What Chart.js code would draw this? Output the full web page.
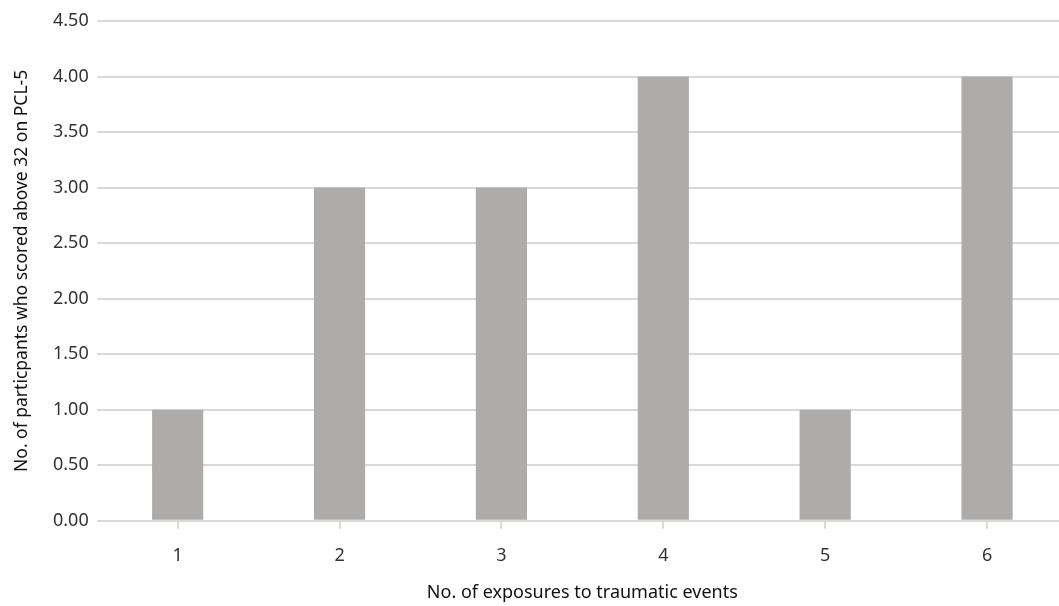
<!DOCTYPE html>
<html>
<head>
<meta charset="utf-8">
<script src="https://cdn.jsdelivr.net/npm/chart.js@4"></script>
<style>
html,body{margin:0;padding:0;background:#fff;overflow:hidden;}
#wrap{width:1068px;height:606px;position:relative;}
</style>
</head>
<body>
<div id="wrap"><canvas id="c"></canvas></div>
<script>
const categories = ["1","2","3","4","5","6"];
const participants = [1,3,3,4,1,4];
const xTitle = "No. of exposures to traumatic events";
const yTitle = "No. of particpants who scored above 32 on PCL-5";

Chart.defaults.font.family = "'Noto Sans', sans-serif";
new Chart(document.getElementById('c'), {
  type: 'bar',
  data: {
    labels: categories,
    datasets: [{
      data: participants,
      backgroundColor: '#adacaa',
      borderWidth: 0,
      barPercentage: 0.316,
      categoryPercentage: 1.0
    }]
  },
  options: {
    responsive: true,
    maintainAspectRatio: false,
    animation: false,
    layout: {padding: {left: 12, right: 0, top: 21, bottom: 2}},
    plugins: {legend: {display: false}, tooltip: {enabled: false}},
    scales: {
      x: {
        offset: true,
        grid: {offset: false, drawOnChartArea: false, drawTicks: true, tickLength: 8, color: '#d9d9d9', lineWidth: 2},
        border: {display: false},
        ticks: {color: '#333', font: {size: 18}, padding: 16},
        title: {display: true, text: xTitle, color: '#111', font: {size: 18}, padding: {top: 0, bottom: 0}}
      },
      y: {
        min: 0, max: 4.5,
        grid: {color: '#d9d9d9', lineWidth: 2, drawTicks: false},
        border: {display: false},
        ticks: {stepSize: 0.5, color: '#333', font: {size: 18}, padding: 8,
          callback: v => Number(v).toFixed(2)},
        title: {display: true, text: yTitle, color: '#111', font: {size: 17.5}, padding: {top: 0, bottom: 12}}
      }
    }
  }
});
</script>
</body>
</html>
